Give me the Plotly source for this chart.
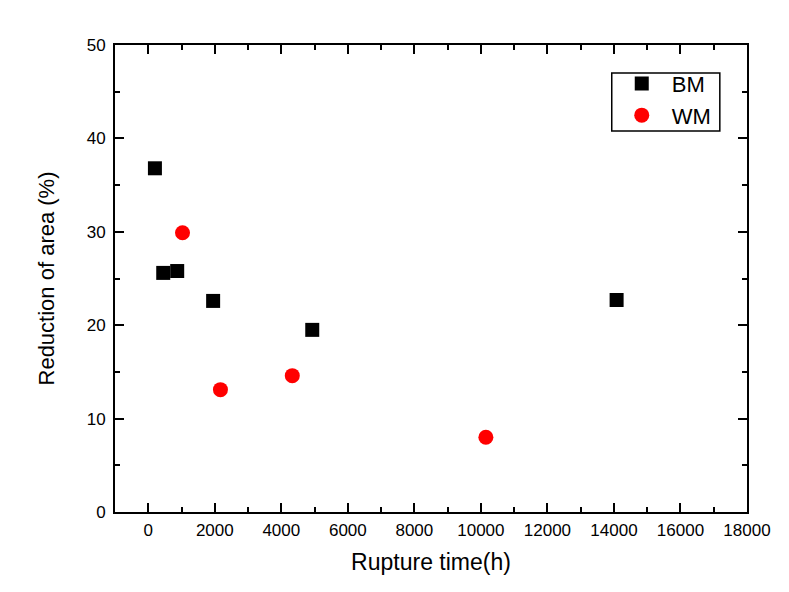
import plotly.graph_objects as go

# rupture time (h) vs reduction of area (%)
bm_time = [200, 450, 870, 1950, 4930, 14080]
bm_ra = [36.8, 25.6, 25.8, 22.6, 19.5, 22.7]

wm_time = [1030, 2170, 4330, 10150]
wm_ra = [29.9, 13.1, 14.6, 8.0]

x_ticks = list(range(0, 18001, 2000))
x_labels = [str(v) for v in x_ticks]
y_ticks = list(range(0, 51, 10))

font_family = 'Arial, "Liberation Sans", sans-serif'

traces = [
    go.Scatter(
        name='BM',
        x=bm_time,
        y=bm_ra,
        mode='markers',
        marker=dict(symbol='square', size=14, color='black'),
    ),
    go.Scatter(
        name='WM',
        x=wm_time,
        y=wm_ra,
        mode='markers',
        marker=dict(symbol='circle', size=15, color='#ff0000'),
    ),
]

axis_common = dict(
    showline=True,
    linecolor='black',
    linewidth=2,
    mirror='ticks',
    ticks='inside',
    ticklen=9,
    tickwidth=2,
    tickcolor='black',
    showgrid=False,
    zeroline=False,
    tickfont=dict(size=17, color='black', family=font_family),
)

# page body adds an 8px offset, so the figure is drawn slightly smaller
layout = go.Layout(
    width=781,
    height=584,
    margin=dict(l=107, r=42, t=37, b=80),
    paper_bgcolor='white',
    plot_bgcolor='white',
    font=dict(family=font_family, color='black'),
    showlegend=True,
    legend=dict(
        x=0.786, y=0.962, xanchor='left', yanchor='top',
        borderwidth=0,
        font=dict(size=22, color='black'),
        bgcolor='rgba(0,0,0,0)',
        tracegroupgap=0,
        itemwidth=50,
    ),
    # tighter frame around the legend than plotly's own border
    shapes=[dict(
        type='rect', xref='paper', yref='paper',
        x0=0.786, x1=0.957, y0=0.816, y1=0.940,
        line=dict(color='black', width=1.5),
        fillcolor='rgba(0,0,0,0)', layer='above',
    )],
    xaxis=dict(
        axis_common,
        range=[-1000, 18000],
        tickvals=x_ticks,
        ticktext=x_labels,
        ticklabelstandoff=2,
        minor=dict(ticks='inside', ticklen=5, tickwidth=2, tickcolor='black', dtick=1000, tick0=1000),
        title=dict(text='Rupture time(h)', font=dict(size=23), standoff=14),
    ),
    yaxis=dict(
        axis_common,
        range=[0, 50],
        tickvals=y_ticks,
        ticklabelstandoff=4,
        minor=dict(ticks='inside', ticklen=5, tickwidth=2, tickcolor='black', dtick=5, tick0=5),
        title=dict(text='Reduction of area (%)', font=dict(size=22), standoff=26),
    ),
)

fig = go.Figure(traces, layout=layout)
fig.write_html("out.html")
